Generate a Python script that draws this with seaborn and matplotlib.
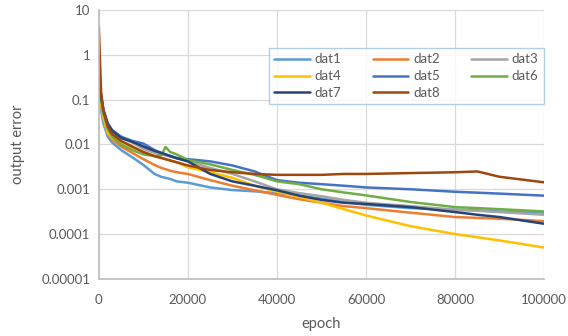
import matplotlib
matplotlib.use("Agg")
import matplotlib.pyplot as plt
import matplotlib.ticker as mticker
import numpy as np
import pandas as pd
import seaborn as sns

# Training epochs at which the output error was recorded
epochs = [0, 500, 1000, 2000, 3000, 5000, 7500, 10000, 12500, 14000, 15000, 16000,
          17500, 20000, 25000, 30000, 35000, 40000, 45000, 50000, 55000, 60000,
          70000, 80000, 85000, 90000, 100000]

dat1 = [0.2, 0.06, 0.03, 0.015, 0.011, 0.0075, 0.0052, 0.0035, 0.0022, 0.0019, 0.0018, 0.0017,
        0.0015, 0.0014, 0.0011, 0.00096, 0.0009, 0.00082, 0.00072, 0.00062, 0.00052, 0.00045,
        0.00038, 0.00035, 0.00034, 0.00032, 0.0003]
dat2 = [0.4, 0.08, 0.04, 0.018, 0.013, 0.009, 0.0065, 0.0047, 0.0035, 0.003, 0.0028, 0.0026,
        0.0024, 0.0022, 0.0016, 0.0012, 0.00095, 0.00075, 0.0006, 0.0005, 0.00042, 0.00038,
        0.0003, 0.00024, 0.00023, 0.00022, 0.000195]
dat3 = [0.5, 0.12, 0.06, 0.028, 0.02, 0.014, 0.011, 0.008, 0.0065, 0.006, 0.0057, 0.0054,
        0.005, 0.0042, 0.003, 0.0022, 0.0015, 0.001, 0.00082, 0.0007, 0.00058, 0.0005,
        0.00042, 0.00035, 0.00033, 0.00031, 0.00027]
dat4 = [0.4, 0.08, 0.04, 0.018, 0.014, 0.011, 0.0085, 0.0068, 0.0055, 0.005, 0.0047, 0.0044,
        0.004, 0.0031, 0.0024, 0.0018, 0.0012, 0.00088, 0.00068, 0.0005, 0.00036, 0.00026,
        0.00015, 0.0001, 0.000085, 0.000072, 0.00005]
dat5 = [0.5, 0.12, 0.06, 0.03, 0.021, 0.015, 0.012, 0.0105, 0.0075, 0.0065, 0.006, 0.0056,
        0.005, 0.0047, 0.0042, 0.0034, 0.0025, 0.0016, 0.0014, 0.0013, 0.0012, 0.0011,
        0.001, 0.00088, 0.00084, 0.0008, 0.00072]
dat6 = [0.5, 0.1, 0.05, 0.022, 0.015, 0.01, 0.0075, 0.006, 0.0055, 0.0057, 0.0088, 0.0068,
        0.006, 0.0045, 0.0036, 0.0027, 0.0021, 0.0015, 0.0013, 0.001, 0.00085, 0.00073,
        0.00052, 0.0004, 0.00038, 0.00036, 0.00032]
dat7 = [0.5, 0.12, 0.06, 0.028, 0.02, 0.014, 0.0115, 0.009, 0.0072, 0.0065, 0.006, 0.0055,
        0.0049, 0.0042, 0.0022, 0.0015, 0.0012, 0.00095, 0.00072, 0.00058, 0.0005, 0.00047,
        0.0004, 0.00031, 0.00027, 0.00024, 0.00017]
dat8 = [4.2, 0.15, 0.06, 0.025, 0.017, 0.012, 0.009, 0.0068, 0.0055, 0.005, 0.0047, 0.0044,
        0.004, 0.0034, 0.0027, 0.0024, 0.0022, 0.0021, 0.0021, 0.0021, 0.0022, 0.0022,
        0.0023, 0.0024, 0.0025, 0.0019, 0.00143]

series_names = ["dat1", "dat2", "dat3", "dat4", "dat5", "dat6", "dat7", "dat8"]
series_values = [dat1, dat2, dat3, dat4, dat5, dat6, dat7, dat8]
colors = ["#5B9BD5", "#ED7D31", "#A5A5A5", "#FFC000",
          "#4472C4", "#70AD47", "#264478", "#9E480E"]

y_ticks = [0.00001, 0.0001, 0.001, 0.01, 0.1, 1, 10]
y_tick_labels = ["0.00001", "0.0001", "0.001", "0.01", "0.1", "1", "10"]
x_ticks = [0, 20000, 40000, 60000, 80000, 100000]

frame = pd.concat(
    [pd.DataFrame({"epoch": epochs, "output error": vals, "series": name})
     for name, vals in zip(series_names, series_values)],
    ignore_index=True,
)

sns.set_theme(style="white")
plt.rcParams["font.family"] = ["Lato", "DejaVu Sans"]
text_color = "#595959"
grid_color = "#D9D9D9"

fig = plt.figure(figsize=(5.68, 3.36), dpi=100)
ax = fig.add_axes([0.174, 0.170, 0.784, 0.800])

sns.lineplot(data=frame, x="epoch", y="output error", hue="series",
             hue_order=series_names, palette=colors, linewidth=1.8,
             sort=False, legend=False, ax=ax)

ax.set_yscale("log")
ax.set_xlim(0, 100000)
ax.set_ylim(0.00001, 10)
ax.set_yticks(y_ticks)
ax.set_yticklabels(y_tick_labels)
ax.yaxis.set_minor_locator(mticker.NullLocator())
ax.set_xticks(x_ticks)
ax.set_xticklabels([str(v) for v in x_ticks])

ax.grid(True, color=grid_color, linewidth=0.9)
ax.set_axisbelow(True)
for side in ["top", "right"]:
    ax.spines[side].set_visible(False)
ax.spines["left"].set_color("#BFBFBF")
ax.spines["bottom"].set_color("#BFBFBF")
ax.tick_params(axis="y", length=0, labelsize=9.5, colors=text_color, pad=6)
ax.tick_params(axis="x", length=0, labelsize=9.5, colors=text_color, pad=11)

ax.set_xlabel("epoch", fontsize=10.5, color=text_color, labelpad=8)
ax.set_ylabel("output error", fontsize=10.5, color=text_color, labelpad=12)

# legend filled row by row: dat1 dat2 dat3 / dat4 dat5 dat6 / dat7 dat8
lines = ax.get_lines()[:len(series_names)]
order = [0, 3, 6, 1, 4, 7, 2, 5]
leg = ax.legend([lines[i] for i in order], [series_names[i] for i in order],
                ncol=3, loc="upper left",
                bbox_to_anchor=(0.367, 0.883), frameon=True, fancybox=False,
                fontsize=9.5, handlelength=2.7, columnspacing=2.4,
                handletextpad=0.35, labelspacing=0.36, borderpad=0.4)
leg.get_frame().set_edgecolor("#9DC3E6")
leg.get_frame().set_linewidth(1.0)
for t in leg.get_texts():
    t.set_color(text_color)

fig.savefig("out.png", dpi=100, facecolor="white")
